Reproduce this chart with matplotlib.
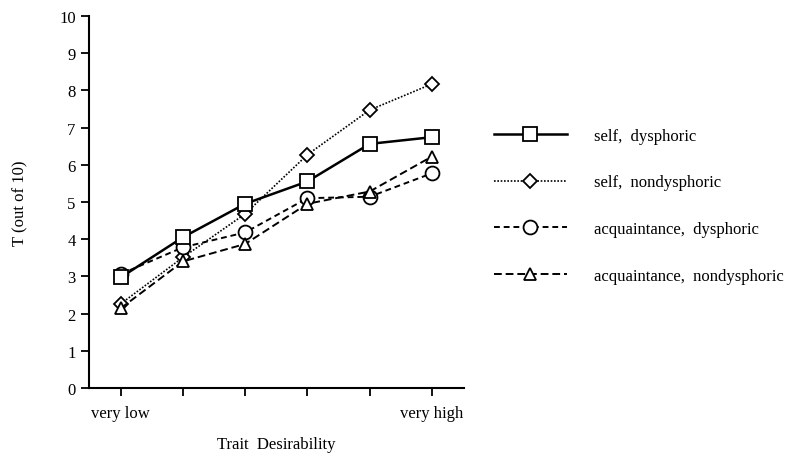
import matplotlib.pyplot as plt
import numpy as np

plt.rcParams['font.family'] = ['Liberation Serif', 'DejaVu Serif']

levels = [1, 2, 3, 4, 5, 6]
tick_labels = ['very low', '', '', '', '', 'very high']

self_dys = [2.97, 4.05, 4.95, 5.55, 6.56, 6.74]
self_nondys = [2.26, 3.51, 4.68, 6.27, 7.47, 8.17]
acq_dys = [3.06, 3.78, 4.18, 5.10, 5.14, 5.77]
acq_nondys = [2.14, 3.40, 3.87, 4.95, 5.28, 6.22]

fig = plt.figure(figsize=(7.94, 4.56), dpi=100)
ax = fig.add_axes([0.112, 0.147, 0.472, 0.816])

ax.plot(levels, self_dys, '-', color='black', lw=1.8, marker='s', ms=10,
        mfc='white', mec='black', mew=1.3, label='self,  dysphoric', zorder=4)
ax.plot(levels, self_nondys, color='black', lw=1.2, ls=(0, (1, 1)), marker='D', ms=7,
        mfc='white', mec='black', mew=1.3, label='self,  nondysphoric', zorder=3)
ax.plot(levels, acq_dys, color='black', lw=1.4, ls=(0, (3, 2)), marker='o', ms=10,
        mfc='white', mec='black', mew=1.3, label='acquaintance,  dysphoric', zorder=3)
ax.plot(levels, acq_nondys, color='black', lw=1.4, ls=(0, (4, 2)), marker='^', ms=9,
        mfc='white', mec='black', mew=1.3, label='acquaintance,  nondysphoric', zorder=3)

ax.set_xlim(0.49, 6.51)
ax.set_ylim(0, 10)
ax.set_yticks(np.arange(0, 11, 1))
ax.set_xticks(levels)
ax.set_xticklabels(tick_labels)
ax.spines['top'].set_visible(False)
ax.spines['right'].set_visible(False)
ax.spines['left'].set_linewidth(1.5)
ax.spines['bottom'].set_linewidth(1.5)
ax.tick_params(axis='both', direction='out', length=6, width=1.3, labelsize=12)
ax.tick_params(axis='x', pad=6)

ax.set_xlabel('Trait  Desirability', fontsize=12, labelpad=11)
ax.set_ylabel('T (out of 10)', fontsize=12, labelpad=22)

ax.legend(loc='upper left', bbox_to_anchor=(1.04, 0.74), frameon=False,
          fontsize=12, handlelength=4.4, handletextpad=1.6, labelspacing=1.85)

fig.savefig('out.png', dpi=100)
